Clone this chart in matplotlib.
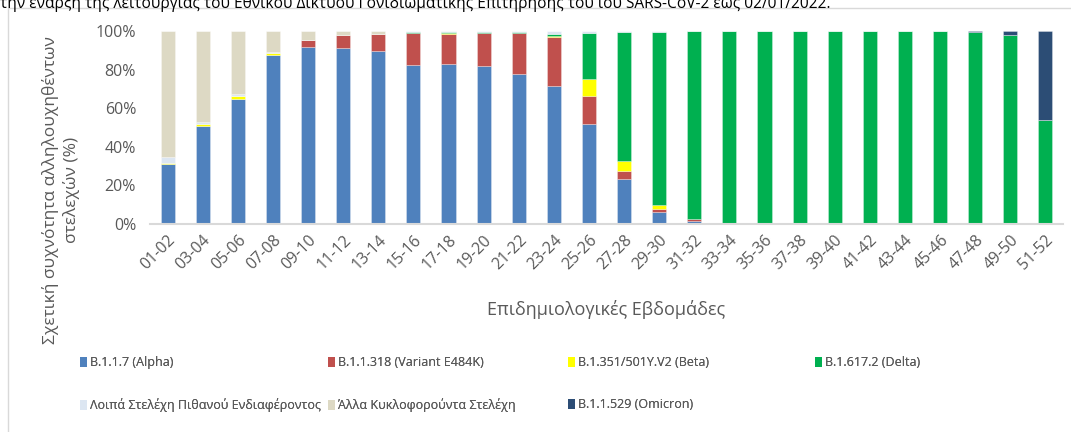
import matplotlib
matplotlib.use("Agg")
import matplotlib.pyplot as plt
import numpy as np
from matplotlib.patches import Rectangle, Patch

plt.rcParams['font.family'] = ['Open Sans', 'DejaVu Sans']

weeks = ["01-02", "03-04", "05-06", "07-08", "09-10", "11-12", "13-14", "15-16",
         "17-18", "19-20", "21-22", "23-24", "25-26", "27-28", "29-30", "31-32",
         "33-34", "35-36", "37-38", "39-40", "41-42", "43-44", "45-46", "47-48",
         "49-50", "51-52"]

alpha   = [30.9, 50.7, 64.8, 87.6, 91.9, 91.4, 89.5, 82.4, 83.1, 81.7, 77.9, 71.4, 51.6, 23.1, 6.2, 1.7, 0, 0, 0, 0, 0, 0, 0, 0, 0, 0]
e484k   = [0, 0, 0, 0, 3.6, 6.4, 8.8, 16.6, 15.5, 17.2, 21.0, 25.5, 14.7, 4.3, 1.6, 0.9, 0, 0, 0, 0, 0, 0, 0, 0, 0, 0]
beta    = [0.5, 1.2, 1.4, 0.9, 0, 0, 0, 0, 0.4, 0, 0, 0.5, 8.8, 5.0, 1.9, 0, 0, 0, 0, 0, 0, 0, 0, 0, 0, 0]
delta   = [0, 0, 0, 0, 0, 0, 0, 0.5, 0.5, 0.6, 0.6, 1.2, 24.0, 67.1, 89.8, 97.4, 100, 100, 100, 100, 100, 100, 100, 99.7, 98.0, 54.1]
others_interest = [3.4, 1.0, 0.9, 0.5, 0, 0, 0, 0.5, 0.5, 0.5, 0.5, 1.2, 0.9, 0.5, 0.5, 0, 0, 0, 0, 0, 0, 0, 0, 0, 0, 0]
other_circ = [65.2, 47.1, 32.9, 11.0, 4.5, 2.2, 1.7, 0, 0, 0, 0, 0.2, 0, 0, 0, 0, 0, 0, 0, 0, 0, 0, 0, 0, 0, 0]
omicron = [0, 0, 0, 0, 0, 0, 0, 0, 0, 0, 0, 0, 0, 0, 0, 0, 0, 0, 0, 0, 0, 0, 0, 0.3, 2.0, 45.9]

series = [
    ("B.1.1.7 (Alpha)", alpha, "#4F81BD"),
    ("B.1.1.318 (Variant E484K)", e484k, "#C0504D"),
    ("B.1.351/501Y.V2 (Beta)", beta, "#FFFF00"),
    ("B.1.617.2 (Delta)", delta, "#00B050"),
    ("Λοιπά Στελέχη Πιθανού Ενδιαφέροντος", others_interest, "#DCE6F2"),
    ("Άλλα Κυκλοφορούντα Στελέχη", other_circ, "#DDD9C4"),
    ("B.1.1.529 (Omicron)", omicron, "#2C4D75"),
]

fig = plt.figure(figsize=(10.71, 4.32), dpi=100)
fig.patches.append(Rectangle((8/1071, -0.1), 1.2, 1 - 8/432 + 0.1, transform=fig.transFigure,
                             fill=False, edgecolor="#D9D9D9", linewidth=1.0))
fig.text(0.0, 1 - 3/432, "την έναρξη της λειτουργίας του Εθνικού Δικτύου Γονιδιωματικής Επιτήρησης του ιού SARS-CoV-2 έως 02/01/2022.",
         fontsize=11.2, color="#000000", ha="left", va="center")

ax = fig.add_axes([150/1071, 1 - 224/432, (1063 - 150)/1071, (224 - 31)/432])
x = np.arange(len(weeks))
bottom = np.zeros(len(weeks))
handles = {}
for name, vals, col in series:
    v = np.array(vals, dtype=float)
    ax.bar(x, v, 0.4, bottom=bottom, color=col, edgecolor=(1, 1, 1, 0.35), linewidth=0.6, zorder=2)
    bottom += v
    handles[name] = Patch(facecolor=col, edgecolor='none')

ax.set_xlim(-0.5, len(weeks) - 0.5)
ax.set_ylim(0, 100)
ax.set_yticks(np.arange(0, 101, 20))
ax.set_yticklabels([f"{t}%" for t in range(0, 101, 20)])
ax.set_xticks(x)
ax.set_xticklabels(weeks, rotation=45, ha="right", rotation_mode="anchor")
ax.tick_params(axis="both", length=0, labelsize=11.5, colors="#595959")
ax.tick_params(axis="x", pad=6)
ax.tick_params(axis="y", pad=10)
for s in ["top", "right", "left"]:
    ax.spines[s].set_visible(False)
ax.spines["bottom"].set_color("#D9D9D9")
ax.spines["bottom"].set_linewidth(1.5)

ax.set_xlabel("Επιδημιολογικές Εβδομάδες", fontsize=13, color="#595959")
ax.xaxis.set_label_coords(0.5, -(300 - 224) / 193)
ax.set_ylabel("Σχετική συχνότητα αλληλουχηθέντων\nστελεχών (%)", fontsize=12.5, color="#595959", linespacing=1.3)
ax.yaxis.set_label_coords(-(150 - 80) / 913, 1 - (190 - 31) / 193)

columns = [
    (80, ["B.1.1.7 (Alpha)", "Λοιπά Στελέχη Πιθανού Ενδιαφέροντος"]),
    (328, ["B.1.1.318 (Variant E484K)", "Άλλα Κυκλοφορούντα Στελέχη"]),
    (568, ["B.1.351/501Y.V2 (Beta)", "B.1.1.529 (Omicron)"]),
    (815, ["B.1.617.2 (Delta)"]),
]
for xpos, names in columns:
    leg = fig.legend([handles[n] for n in names], names, loc="upper left",
                     bbox_to_anchor=(xpos/1071, 1 - 356/432), frameon=False, fontsize=9,
                     handlelength=0.55, handleheight=0.9, handletextpad=0.25,
                     borderpad=0, borderaxespad=0, labelspacing=2.35, labelcolor="#595959")
    fig.add_artist(leg)

fig.savefig("out.png", dpi=100)
